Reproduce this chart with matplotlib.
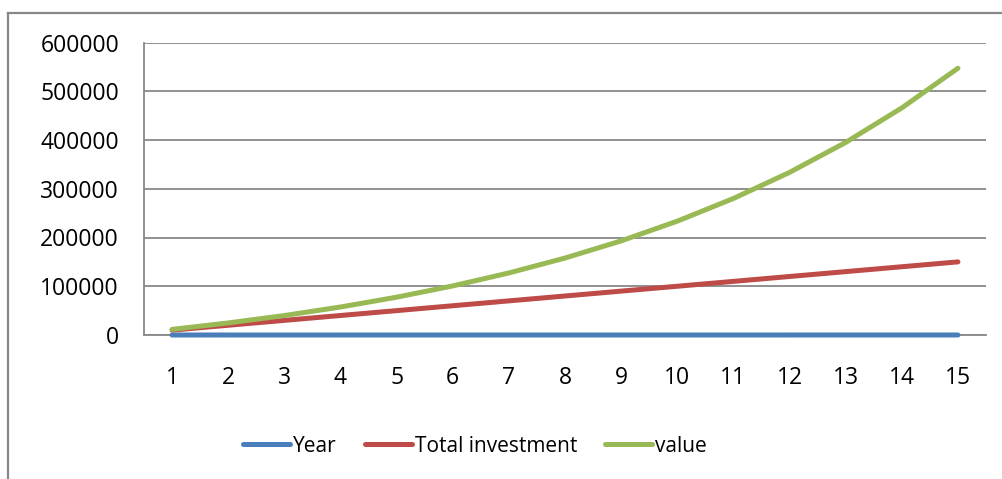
import matplotlib
matplotlib.use("Agg")
import matplotlib.pyplot as plt
from matplotlib.lines import Line2D

# Values
years = list(range(1, 16))
year_series = [1, 2, 3, 4, 5, 6, 7, 8, 9, 10, 11, 12, 13, 14, 15]
total_investment = [10000, 20000, 30000, 40000, 50000, 60000, 70000, 80000,
                    90000, 100000, 110000, 120000, 130000, 140000, 150000]
value = [11500, 24725, 39934, 57424, 77537, 100668, 127268, 157858,
         193037, 233493, 280017, 333519, 395047, 465804, 547175]
y_ticks = [0, 100000, 200000, 300000, 400000, 500000, 600000]
series_names = ["Year", "Total investment", "value"]

# Excel 2007 style colours
BLUE = "#4A7EBB"
RED = "#BE4B48"
GREEN = "#98B954"
GRID = "#888888"

plt.rcParams['font.family'] = ['Open Sans', 'DejaVu Sans']

W, H = 1002, 479
fig = plt.figure(figsize=(W / 100, H / 100), dpi=100)
ax = fig.add_axes([144 / W, 1 - 335 / H, (986 - 144) / W, (335 - 42.5) / H])

lw = 3.6
for ys, col, name in [(year_series, BLUE, series_names[0]),
                      (total_investment, RED, series_names[1]),
                      (value, GREEN, series_names[2])]:
    ax.plot(years, ys, color=col, lw=lw, solid_capstyle='round',
            label=name, zorder=3, clip_on=False)

ax.set_xlim(0.5, 15.5)
ax.set_ylim(0, 600000)
ax.set_xticks(years)
ax.set_yticks(y_ticks)
ax.set_yticklabels([str(v) for v in y_ticks])
ax.grid(axis='y', color=GRID, lw=1.3)
ax.set_axisbelow(True)

for side in ['top', 'right']:
    ax.spines[side].set_visible(False)
ax.spines['left'].set_color(GRID)
ax.spines['bottom'].set_color(GRID)
ax.spines['left'].set_linewidth(1.3)
ax.spines['bottom'].set_linewidth(1.3)
ax.tick_params(axis='both', length=0, labelsize=16.5, colors='black')
ax.tick_params(axis='x', pad=22)
ax.tick_params(axis='y', pad=18)

leg = fig.legend(loc='center', bbox_to_anchor=(475 / W, 1 - 446 / H), ncol=3,
                 frameon=False, fontsize=15, handlelength=2.25, handletextpad=0.15,
                 columnspacing=1.35)

# outer chart border (top and left edges visible)
fig.add_artist(Line2D([8 / W, 1.0], [1 - 13 / H, 1 - 13 / H], transform=fig.transFigure, color=GRID, lw=1.6))
fig.add_artist(Line2D([8 / W, 8 / W], [1 - 13 / H, 0.0], transform=fig.transFigure, color=GRID, lw=1.6))

fig.savefig("out.png", dpi=100)
